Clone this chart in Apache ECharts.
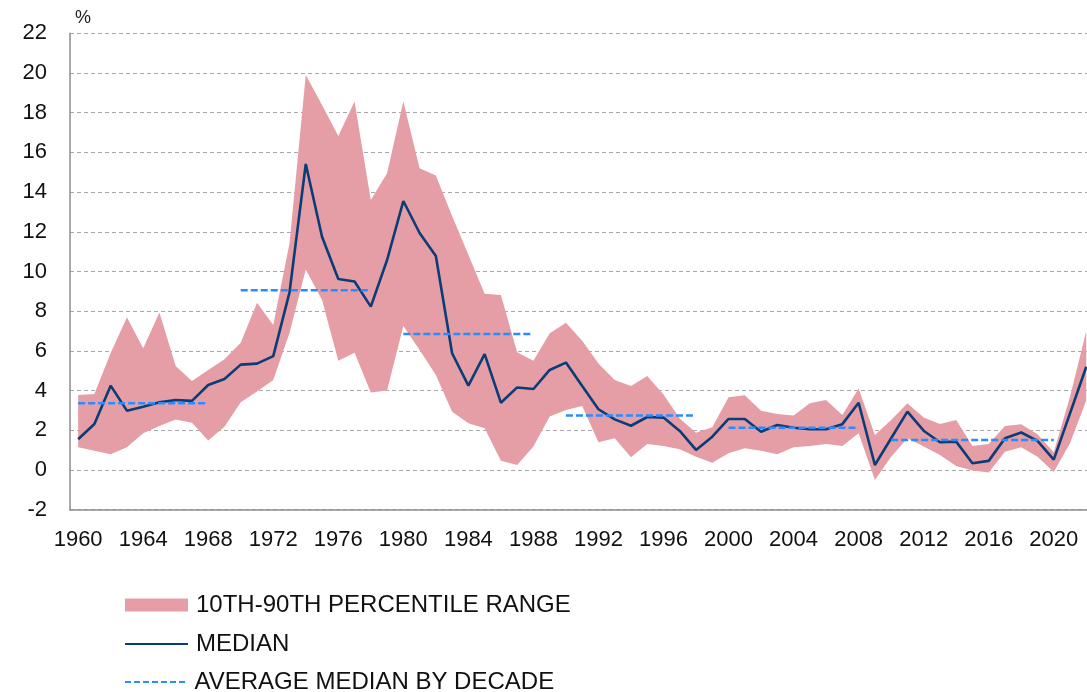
<!DOCTYPE html>
<html>
<head>
<meta charset="utf-8">
<script src="https://cdn.jsdelivr.net/npm/echarts@6/dist/echarts.min.js"></script>
<style>
  html, body { margin: 0; padding: 0; background: #fff; }
  #chart { width: 1087px; height: 692px; }
</style>
</head>
<body>
<div id="chart"></div>
<script>
// ============================================================================
// Data
// ============================================================================

const years = []
for (let y = 1960; y <= 2022; y++) years.push(String(y))

const median = [
  1.55, 2.32, 4.25, 2.99, 3.19, 3.41, 3.53, 3.48, 4.28, 4.58,
  5.31, 5.36, 5.74, 8.95, 15.42, 11.75, 9.62, 9.5, 8.23, 10.58,
  13.55, 11.94, 10.78, 5.88, 4.25, 5.84, 3.39, 4.16, 4.08, 5.04,
  5.41, 4.23, 3.06, 2.55, 2.23, 2.67, 2.64, 1.97, 1.01, 1.68,
  2.57, 2.57, 1.93, 2.27, 2.13, 2.05, 2.05, 2.31, 3.39, 0.25,
  1.6, 2.94, 1.98, 1.4, 1.43, 0.34, 0.46, 1.6, 1.89, 1.47,
  0.52, 2.85, 5.2
]

const upper = [
  3.78, 3.83, 5.9, 7.69, 6.13, 7.93, 5.24, 4.48, 5.04, 5.58,
  6.41, 8.43, 7.3, 11.42, 19.9, 18.39, 16.83, 18.56, 13.6, 14.95,
  18.56, 15.2, 14.83, 12.8, 10.85, 8.88, 8.81, 5.93, 5.51, 6.89,
  7.42, 6.51, 5.37, 4.53, 4.23, 4.74, 3.8, 2.6, 1.88, 2.15,
  3.66, 3.76, 2.99, 2.82, 2.74, 3.36, 3.53, 2.77, 4.11, 1.76,
  2.52, 3.36, 2.65, 2.32, 2.52, 1.21, 1.31, 2.22, 2.3, 1.8,
  0.9, 3.69, 7.0
]

const lower = [
  1.14, 0.97, 0.79, 1.14, 1.85, 2.22, 2.55, 2.38, 1.48, 2.18,
  3.41, 3.95, 4.53, 6.9, 10.1, 8.56, 5.5, 5.91, 3.9, 4.0,
  7.25, 6.05, 4.79, 2.94, 2.35, 2.1, 0.47, 0.25, 1.18, 2.69,
  3.02, 3.22, 1.4, 1.6, 0.64, 1.31, 1.21, 1.05, 0.67, 0.37,
  0.84, 1.09, 0.97, 0.79, 1.14, 1.21, 1.31, 1.21, 1.85, -0.5,
  0.67, 1.6, 1.18, 0.76, 0.2, -0.03, -0.12, 0.92, 1.14, 0.67,
  -0.1, 1.35, 3.5
]

// average median by decade: segment start year, end year, value
const decadeStart = [1960, 1970, 1980, 1990, 2000, 2010]
const decadeEnd = [1968, 1978, 1988, 1998, 2008, 2020]
const decadeAvg = [3.36, 9.05, 6.85, 2.74, 2.13, 1.51]

// ============================================================================
// Helpers
// ============================================================================

const _pink = '#e69ea6'
const _navy = '#0a3c78'
const _blue = '#2a8cff'
const _font = 'Liberation Sans, Arial, sans-serif'

const bandWidth = upper.map((u, i) => +(u - lower[i]).toFixed(2))

const decadeLine = years.map(y => {
  const yr = +y
  for (let i = 0; i < decadeStart.length; i++) {
    if (yr >= decadeStart[i] && yr <= decadeEnd[i]) return decadeAvg[i]
  }
  return '-'
})

// legend icons: a solid bar and a dashed bar, stretched to itemWidth x itemHeight
const _solidIcon = 'path://M0,0H63V2H0Z'
let _dashPath = ''
for (let x = 0; x < 63; x += 9) _dashPath += 'M' + x + ',0h6v2h-6Z'
const _dashedIcon = 'path://' + _dashPath

function _legend(name, top, icon, height, color) {
  return {
    orient: 'vertical',
    left: 120,
    top: top,
    itemWidth: 63,
    itemHeight: height,
    textStyle: {fontSize: 24, color: '#111', padding: [0, 0, 0, 3]},
    data: [{name: name, icon: icon, itemStyle: {color: color, opacity: 1, borderWidth: 0}}]
  }
}

// ============================================================================
// Chart
// ============================================================================

const chart = echarts.init(document.getElementById('chart'))

const option = {
  animation: false,
  textStyle: {fontFamily: _font},
  grid: {left: 70, top: 33.3, width: 1024.4, height: 476.4, outerBoundsMode: 'none'},
  graphic: [{
    type: 'text',
    left: 75,
    top: 9,
    style: {text: '%', fontSize: 18, fill: '#222', fontFamily: _font}
  }],
  legend: [
    _legend('10TH-90TH PERCENTILE RANGE', 588, 'rect', 13, _pink),
    _legend('MEDIAN', 627, _solidIcon, 2, _navy),
    _legend('AVERAGE MEDIAN BY DECADE', 665, _dashedIcon, 2, _blue)
  ],
  xAxis: {
    type: 'category',
    data: years,
    boundaryGap: true,
    axisLine: {onZero: false, lineStyle: {color: '#8c8c8c', width: 1.5}},
    axisTick: {interval: 3, inside: true, length: 8, lineStyle: {color: '#8c8c8c', width: 1.5}},
    axisLabel: {interval: 3, fontSize: 22, color: '#111', margin: 19},
    splitLine: {show: false}
  },
  yAxis: {
    type: 'value',
    min: -2,
    max: 22,
    interval: 2,
    axisLine: {show: true, lineStyle: {color: '#8c8c8c', width: 1.5}},
    axisTick: {show: false},
    axisLabel: {fontSize: 22, color: '#111', margin: 23},
    splitLine: {lineStyle: {color: '#a8a8a8', type: [4, 3], width: 1}}
  },
  series: [
    {
      name: 'lower',
      type: 'line',
      stack: 'band',
      stackStrategy: 'all',
      data: lower,
      symbol: 'none',
      lineStyle: {opacity: 0, width: 0},
      silent: true,
      z: 1
    },
    {
      name: '10TH-90TH PERCENTILE RANGE',
      type: 'line',
      stack: 'band',
      stackStrategy: 'all',
      data: bandWidth,
      symbol: 'none',
      color: _pink,
      lineStyle: {opacity: 0, width: 0},
      areaStyle: {color: _pink, opacity: 1},
      z: 1
    },
    {
      name: 'MEDIAN',
      type: 'line',
      data: median,
      symbol: 'none',
      color: _navy,
      lineStyle: {color: _navy, width: 2.6},
      z: 3
    },
    {
      name: 'AVERAGE MEDIAN BY DECADE',
      type: 'line',
      data: decadeLine,
      symbol: 'none',
      color: _blue,
      lineStyle: {color: _blue, width: 2.5, type: [7, 3]},
      z: 4
    }
  ]
}

chart.setOption(option)
</script>
</body>
</html>
